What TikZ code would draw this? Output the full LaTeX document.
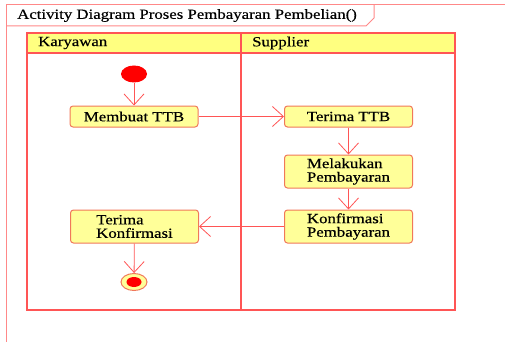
\documentclass[tikz,border=0pt]{standalone}
\usepackage{fontspec}
\setmainfont{Liberation Serif}[FakeStretch=1.2,FakeBold=0.4]
\usetikzlibrary{arrows.meta,shapes.geometric}
\definecolor{lineRed}{RGB}{255,85,85}
\definecolor{boxBorder}{RGB}{240,120,90}
\definecolor{boxFill}{RGB}{255,255,153}
\definecolor{headFill}{RGB}{255,255,128}
\tikzset{
  act/.style={draw=boxBorder, line width=1pt, fill=boxFill, rounded corners=3pt,
    minimum width=128pt, inner sep=0pt, align=left, font=\fontsize{14}{13.5}\selectfont},
  flow/.style={draw=lineRed, line width=0.8pt, -{Straight Barb[length=11pt,width=20pt]}},
  lane/.style={draw=lineRed, line width=1.2pt},
  lbl/.style={font=\fontsize{14}{14}\selectfont, inner sep=0pt, anchor=west}
}
\begin{document}
\begin{tikzpicture}[x=1pt,y=-1pt]
\useasboundingbox (0,0) rectangle (505,342);
% outer frame
\draw[lineRed!70, line width=1pt] (6,342) -- (6,5) -- (505,5);
\draw[lineRed!70, line width=1pt] (6,26) -- (366,26) -- (374,18) -- (374,5);
\node[lbl] (title) at (17,15.5) {Activity Diagram Proses Pembayaran Pembelian()};
% swimlanes
\fill[headFill] (27,33) rectangle (455,53);
\draw[lane] (27,33) rectangle (455,310);
\draw[lane] (27,53) -- (455,53);
\draw[lane] (241,33) -- (241,310);
\node[lbl] (k) at (38,43) {Karyawan};
\node[lbl] (s) at (252,43) {Supplier};
% nodes
\node[draw=none, fill=red, ellipse, minimum width=26pt, minimum height=17pt, inner sep=0pt] (start) at (134,74) {};
\node[act, minimum height=21pt] (mtt) at (134,116.5) {Membuat TTB};
\node[act, minimum height=21pt] (ttb) at (348.5,116.5) {Terima TTB};
\node[act, minimum height=33pt] (mp) at (348.5,171.5) {Melakukan\\Pembayaran};
\node[act, minimum height=33pt] (kp) at (348.5,226.5) {Konfirmasi\\Pembayaran};
\node[act, minimum height=33pt] (tk) at (134.5,226.5) {Terima\\Konfirmasi};
\node[draw=boxBorder, line width=1pt, fill=boxFill, ellipse, minimum width=26pt, minimum height=17pt, inner sep=0pt] (end) at (134,282) {};
\node[fill=red, ellipse, minimum width=15pt, minimum height=10pt, inner sep=0pt] (endin) at (134,282) {};
% flows
\draw[flow] (start) -- (mtt);
\draw[flow] (mtt) -- (ttb);
\draw[flow] (ttb) -- (mp);
\draw[flow] (mp) -- (kp);
\draw[flow] (kp) -- (tk);
\draw[flow] (tk) -- (end);
\end{tikzpicture}
\end{document}
